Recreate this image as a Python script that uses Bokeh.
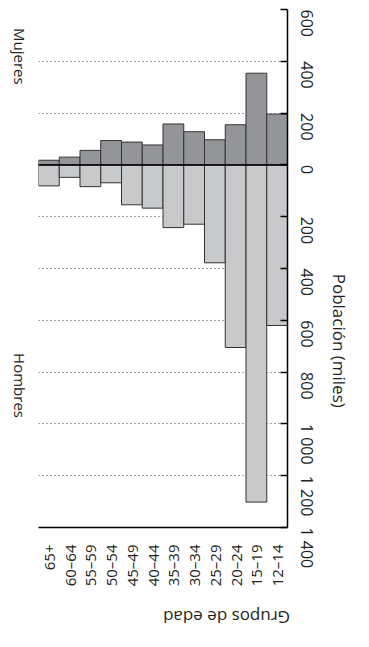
import math
from bokeh.plotting import figure
from bokeh.models import (ColumnDataSource, Range1d, FactorRange, FixedTicker,
                          CustomJSTickFormatter, Span, LinearAxis, CategoricalAxis)
from bokeh.embed import file_html
from bokeh.resources import INLINE

categorias = ["65+", "60–64", "55–59", "50–54", "45–49", "40–44",
              "35–39", "30–34", "25–29", "20–24", "15–19", "12–14"]
mujeres = [18, 30, 56, 94, 88, 77, 158, 128, 97, 155, 354, 196]
hombres = [81, 48, 84, 69, 154, 167, 242, 229, 378, 705, 1302, 620]
ticks = [-1400, -1200, -1000, -800, -600, -400, -200, 0, 200, 400, 600]
sexo_pos = [310, -977]          # caption anchors on the population scale
titulo_eje_y = "Población (miles)"
titulo_eje_x = "Grupos de edad"

FONT = "Open Sans"
TXT = "#231f20"

src = ColumnDataSource(dict(cat=categorias, muj=mujeres, hom=[-v for v in hombres]))

p = figure(x_range=categorias, y_range=Range1d(-1400, 600),
           width=369, height=647, output_backend="svg", toolbar_location=None,
           y_axis_location="right",
           min_border_left=41, min_border_top=13, min_border_right=69,
           min_border_bottom=104,
           styles={"margin-left": "-4px", "margin-top": "-4px"})
p.outline_line_color = None
p.extra_x_ranges = {"lab": FactorRange(factors=[titulo_eje_x])}
p.extra_y_ranges = {"lab": Range1d(0, 1)}

p.vbar(x="cat", top="muj", bottom=0, width=1.0, source=src,
       fill_color="#939598", line_color="#333333", line_width=1)
p.vbar(x="cat", top=0, bottom="hom", width=1.0, source=src,
       fill_color="#c8c9cb", line_color="#333333", line_width=1)
p.add_layout(Span(location=0, dimension="width", line_color="black", line_width=1.5))

p.xgrid.visible = False
p.ygrid.ticker = FixedTicker(ticks=ticks)
p.ygrid.grid_line_color = "#444444"
p.ygrid.grid_line_dash = "1 3"


def style_caption(ax, angle, size, standoff, no_ticks=True):
    ax.axis_line_color = None
    ax.major_tick_line_color = None
    ax.minor_tick_line_color = None
    if no_ticks:
        ax.major_tick_in = 0
        ax.major_tick_out = 0
        ax.minor_tick_in = 0
        ax.minor_tick_out = 0
    ax.major_label_orientation = angle
    ax.major_label_text_font = FONT
    ax.major_label_text_font_size = size
    ax.major_label_text_color = TXT
    ax.major_label_standoff = standoff
    return ax


# right (population) axis
ya = p.yaxis[0]
ya.ticker = FixedTicker(ticks=ticks)
ya.formatter = CustomJSTickFormatter(code="""
const v = Math.abs(tick);
if (v >= 1000) { const r = v % 1000; return Math.floor(v/1000) + " " + String(r).padStart(3, "0"); }
return String(v);
""")
ya.major_label_orientation = -math.pi / 2
ya.major_tick_in = 7
ya.major_tick_out = 0
ya.minor_tick_in = 0
ya.minor_tick_out = 0
ya.minor_tick_line_color = None
ya.axis_line_color = "black"
ya.axis_line_width = 1.5
ya.major_tick_line_width = 1.5
ya.major_label_text_font = FONT
ya.major_label_text_font_size = "16px"
ya.major_label_text_color = TXT
ya.major_label_standoff = 19

# right caption "Población (miles)"
cap_y = LinearAxis(y_range_name="lab", ticker=FixedTicker(ticks=[0.49]),
                   formatter=CustomJSTickFormatter(code=f'return "{titulo_eje_y}";'))
p.add_layout(style_caption(cap_y, -math.pi / 2, "17px", 8), "right")

# left captions (Mujeres / Hombres)
cap_s = LinearAxis(ticker=FixedTicker(ticks=sexo_pos),
                   formatter=CustomJSTickFormatter(code='return tick > 0 ? "Mujeres" : "Hombres";'))
p.add_layout(style_caption(cap_s, -math.pi / 2, "15px", 13, no_ticks=False), "left")

# bottom (age group) axis
xa = p.xaxis[0]
xa.major_label_orientation = math.pi / 2
xa.major_tick_in = 0
xa.major_tick_out = 0
xa.axis_line_color = "black"
xa.axis_line_width = 1.5
xa.major_label_text_font = FONT
xa.major_label_text_font_size = "15px"
xa.major_label_text_color = TXT
xa.major_label_standoff = 17

# bottom caption "Grupos de edad" (upside down)
cap_x = CategoricalAxis(x_range_name="lab")
p.add_layout(style_caption(cap_x, math.pi, "17px", 28), "below")

open("out.html", "w").write(file_html(p, INLINE))
